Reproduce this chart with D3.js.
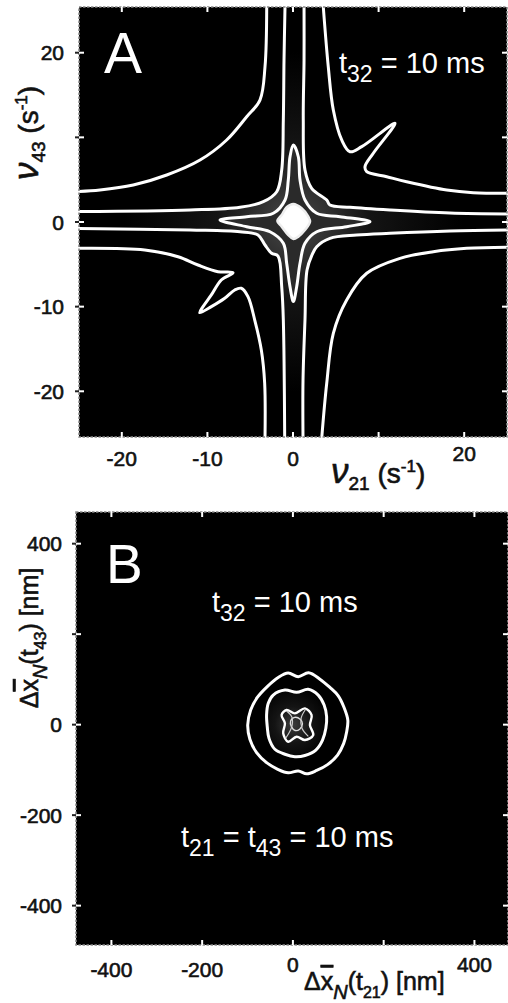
<!DOCTYPE html>
<html>
<head>
<meta charset="utf-8">
<script src="https://cdn.jsdelivr.net/npm/d3@7"></script>
<style>
  html, body { margin: 0; padding: 0; background: #fff; }
  svg { display: block; font-family: "Liberation Sans", Arial, sans-serif; }
  .ink { fill: #111; stroke: #111; stroke-width: 0.6; }
</style>
</head>
<body>
<svg id="chart" width="508" height="1003"></svg>
<script>
// ---- panel A : contour lines in the (nu21, nu43) plane, s^-1 ----
const aTicks = [-20, -10, 0, 10, 20];
const aXLabels = [-20, -10, 0, 20];
const aYLabels = [20, 0, -10, -20];

// outermost level, one branch per quadrant
const aOuterTL = [[-3.07,25.4],[-3.27,18.35],[-3.86,14.41],[-5.41,12.44],[-7.75,9.69],[-10.86,7.32],[-14.75,5.55],[-18.66,4.37],[-22.55,3.78],[-25.2,3.6]];
const aOuterTR = [[3.54,25.4],[4.12,18.35],[4.71,13.23],[5.69,9.69],[6.66,8.3],[8.03,8.9],[11.92,11.66],[9.38,8.12],[8.41,6.53],[8.61,5.94],[10.95,5.35],[13.28,4.76],[17.96,3.78],[21.06,3.46],[25.2,3.39]];
const aOuterBL = [[-25.2,-3.11],[-17.32,-3.31],[-13.43,-4.1],[-11.1,-5.08],[-8.76,-5.87],[-7.01,-5.99],[-8.38,-6.85],[-9.54,-8.62],[-10.51,-10.0],[-10.9,-10.71],[-9.54,-10.0],[-7.98,-9.01],[-6.81,-8.03],[-6.04,-7.83],[-5.26,-8.82],[-4.47,-11.58],[-3.7,-15.12],[-3.31,-19.05],[-3.27,-25.6]];
const aOuterBR = [[3.35,-25.6],[3.94,-19.05],[4.71,-13.15],[6.27,-9.21],[8.61,-6.06],[12.5,-4.29],[16.39,-3.51],[20.29,-3.11],[25.2,-2.99]];

// second level, hugging the axes
const aInnerTL = [[-0.93,25.6],[-1.05,19.1],[-1.13,12.05],[-1.32,6.14],[-1.9,3.58],[-3.47,2.4],[-6.19,1.74],[-12.03,1.42],[-25.2,1.24]];
const aInnerTR = [[1.29,25.6],[1.29,19.1],[1.2,12.05],[1.4,6.14],[2.18,3.98],[3.94,2.6],[4.32,2.0],[6.66,1.74],[11.33,1.42],[18.34,1.06],[25.2,0.95]];
const aInnerBL = [[-25.2,-0.77],[-12.03,-0.95],[-6.19,-1.15],[-4.09,-1.54],[-3.27,-2.72],[-2.49,-3.7],[-1.75,-4.02],[-1.32,-7.64],[-1.13,-11.58],[-0.97,-25.6]];
const aInnerBR = [[1.17,-25.6],[1.17,-18.7],[1.4,-11.58],[1.64,-5.67],[2.22,-3.9],[2.77,-2.92],[4.32,-1.93],[7.44,-1.54],[11.33,-1.33],[18.34,-1.06],[25.2,-0.95]];

// four pointed star and the central peak
const aStar = [[0.04,9.1],[0.62,7.71],[0.82,4.96],[1.4,2.6],[2.77,1.03],[5.49,0.63],[8.99,0.04],[6.27,-0.56],[2.77,-1.15],[1.4,-2.52],[0.82,-4.88],[0.43,-7.64],[0.04,-9.4],[-0.35,-7.64],[-0.74,-4.88],[-1.13,-2.52],[-2.69,-1.15],[-5.41,-0.56],[-8.53,0.24],[-5.41,0.63],[-2.3,1.03],[-0.93,2.6],[-0.55,4.96],[-0.35,7.71]];
const aCore = [[0.04,2.13],[1.01,1.62],[1.79,0.63],[1.99,0.04],[1.4,-0.95],[0.62,-1.73],[0.04,-2.0],[-0.55,-1.54],[-1.32,-0.55],[-1.83,0.12],[-1.32,0.83],[-0.74,1.74]];

// ---- panel B : contour lines of displacement, nm ----
const bTicks = [-400, -200, 0, 200, 400];
const bXLabels = [-400, -200, 0, 400];
const bYLabels = [400, 0, -200, -400];

const bOuterRing = [[-10.4,114.0],[11.7,106.0],[34.5,114.5],[59.5,100.6],[81.6,82.2],[99.9,63.7],[112.7,38.0],[121.0,10.2],[118.5,-15.7],[111.9,-41.3],[98.4,-67.2],[76.3,-88.3],[52.3,-101.3],[30.2,-108.6],[11.7,-102.3],[-10.4,-106.4],[-33.4,-98.6],[-58.0,-84.0],[-80.0,-61.9],[-94.8,-32.3],[-99.6,-0.9],[-93.1,32.3],[-78.5,60.1],[-56.5,84.2],[-32.4,104.3]];
const bMiddleRing = [[-43.4,65.4],[-17.6,76.5],[8.2,71.4],[33.7,78.2],[55.8,65.4],[68.8,43.3],[74.3,17.5],[72.6,-8.2],[65.3,-34.0],[50.5,-56.1],[26.5,-68.2],[4.4,-70.9],[-17.6,-65.4],[-39.7,-54.4],[-52.7,-30.3],[-56.5,-4.6],[-58.0,21.2],[-54.3,47.1]];
const bInnerRing = [[-13.9,32.3],[4.4,25.0],[26.5,36.0],[41.2,21.2],[37.5,-0.9],[44.8,-23.0],[26.5,-34.0],[8.2,-26.7],[-10.4,-37.8],[-21.4,-19.2],[-17.6,2.9],[-24.9,21.2]];
const bCoreLoop = [[4,16],[16,12],[21,2],[15,-10],[5,-13],[-3,-5],[-5,8]];
const bCoreStrokes = [[[-14,30],[-2,16],[-3,-6],[-16,-30]], [[28,34],[18,14],[20,-8],[34,-26]]];

const svg = d3.select("#chart");
svg.append("rect").attr("width", 508).attr("height", 1003).attr("fill", "#fff");
const defs = svg.append("defs");

function panel(cfg) {
  const { x, y, id } = cfg;
  const [x0, x1] = x.range(), [y0, y1] = [y.range()[1], y.range()[0]];
  const g = svg.append("g");

  defs.append("clipPath").attr("id", "clip" + id)
    .append("rect").attr("x", x0).attr("y", y0).attr("width", x1 - x0).attr("height", y1 - y0);

  const grad = defs.append("radialGradient").attr("id", "glow" + id)
    .attr("gradientUnits", "userSpaceOnUse")
    .attr("cx", x(0)).attr("cy", y(0)).attr("r", cfg.glowR);
  grad.append("stop").attr("offset", 0).attr("stop-color", cfg.glowColor);
  grad.append("stop").attr("offset", 0.45).attr("stop-color", "#141414");
  grad.append("stop").attr("offset", 1).attr("stop-color", "#000");

  g.append("rect").attr("x", x0).attr("y", y0).attr("width", x1 - x0).attr("height", y1 - y0)
    .attr("fill", "#000");

  const plot = g.append("g").attr("clip-path", `url(#clip${id})`);

  // frame, noisy like the scan
  g.append("rect").attr("x", x0).attr("y", y0).attr("width", x1 - x0).attr("height", y1 - y0)
    .attr("fill", "none").attr("stroke", "#8a8a8a").attr("stroke-width", 1.6)
    .attr("stroke-dasharray", "2.5 1.5");

  // ticks: white inside, short dark stub outside on the left
  const tk = g.append("g").attr("stroke-width", 2);
  cfg.ticks.forEach(v => {
    tk.append("line").attr("x1", x(v)).attr("x2", x(v)).attr("y1", y1).attr("y2", y1 - 5).attr("stroke", "#fff");
    tk.append("line").attr("x1", x(v)).attr("x2", x(v)).attr("y1", y0).attr("y2", y0 + 5).attr("stroke", "#fff");
    tk.append("line").attr("y1", y(v)).attr("y2", y(v)).attr("x1", x0).attr("x2", x0 + 5).attr("stroke", "#fff");
    tk.append("line").attr("y1", y(v)).attr("y2", y(v)).attr("x1", x1).attr("x2", x1 - 5).attr("stroke", "#fff");
    tk.append("line").attr("y1", y(v)).attr("y2", y(v)).attr("x1", x0 - 4).attr("x2", x0).attr("stroke", "#222");
  });

  g.append("g").selectAll("text").data(cfg.yLabels).join("text")
    .attr("class", "ink")
    .attr("x", cfg.yLabelX).attr("y", d => y(d) + 7.5)
    .attr("text-anchor", "end").attr("font-size", 21)
    .text(d => d);

  g.append("g").selectAll("text").data(cfg.xLabels).join("text")
    .attr("class", "ink")
    .attr("x", d => x(d)).attr("y", cfg.xLabelY)
    .attr("text-anchor", "middle").attr("font-size", 21)
    .text(d => d);

  return { g, plot };
}

// ---- panel A ----
const xA = d3.scaleLinear().domain([-25, 25]).range([79, 507]);
const yA = d3.scaleLinear().domain([-25.4, 25.4]).range([437, 7]);
const pA = panel({ id: "A", x: xA, y: yA, ticks: aTicks, xLabels: aXLabels, yLabels: aYLabels,
  yLabelX: 64, xLabelY: d => d === 20 ? 461 : 466, glowR: 170, glowColor: "#4a4a4a" });

const lineA = d3.line().x(d => xA(d[0])).y(d => yA(d[1])).curve(d3.curveCatmullRom.alpha(0.5));
const loopA = d3.line().x(d => xA(d[0])).y(d => yA(d[1])).curve(d3.curveCatmullRomClosed.alpha(0.5));
const fillA = d3.line().x(d => xA(d[0])).y(d => yA(d[1])).curve(d3.curveLinearClosed);

// speckled band between the inner branches
const crossRegion = [].concat(aInnerTL, aInnerBL, aInnerBR, aInnerTR.slice().reverse());
pA.plot.append("path").attr("d", fillA(crossRegion)).attr("fill", "url(#glowA)");

const branchesA = [aOuterTL, aOuterTR, aOuterBL, aOuterBR, aInnerTL, aInnerTR, aInnerBL, aInnerBR];
pA.plot.append("g").selectAll("path").data(branchesA).join("path")
  .attr("d", lineA).attr("fill", "none").attr("stroke", "#fff")
  .attr("stroke-width", 3).attr("stroke-linejoin", "round");

pA.plot.append("path").attr("d", loopA(aStar))
  .attr("fill", "#2a2a2a").attr("stroke", "#fff").attr("stroke-width", 3).attr("stroke-linejoin", "round");
pA.plot.append("path").attr("d", loopA(aCore))
  .attr("fill", "#fff").attr("stroke", "#eee").attr("stroke-width", 2.5);

svg.append("text").attr("x", 104).attr("y", 73).attr("font-size", 57).attr("fill", "#fff").text("A");

const tA = svg.append("text").attr("x", 339).attr("y", 73).attr("font-size", 29).attr("fill", "#fff");
tA.append("tspan").text("t");
tA.append("tspan").attr("font-size", 23).attr("dy", 9).text("32");
tA.append("tspan").attr("dy", -9).text(" = 10 ms");

const axA = svg.append("text").attr("class", "ink").attr("x", 331).attr("y", 483).attr("font-size", 28);
axA.append("tspan").attr("font-style", "italic").attr("font-size", 35).text("ν");
axA.append("tspan").attr("font-size", 19).attr("dy", 7).text("21");
axA.append("tspan").attr("dy", -7).text(" (s");
axA.append("tspan").attr("font-size", 17).attr("dy", -11).text("-1");
axA.append("tspan").attr("dy", 11).text(")");

const ayA = svg.append("text").attr("class", "ink").attr("transform", "translate(38,133) rotate(-90)")
  .attr("text-anchor", "middle").attr("font-size", 28);
ayA.append("tspan").attr("font-style", "italic").attr("font-size", 35).text("ν");
ayA.append("tspan").attr("font-size", 19).attr("dy", 7).text("43");
ayA.append("tspan").attr("dy", -7).text(" (s");
ayA.append("tspan").attr("font-size", 17).attr("dy", -11).text("-1");
ayA.append("tspan").attr("dy", 11).text(")");

// ---- panel B ----
const xB = d3.scaleLinear().domain([-478, 474]).range([76, 508]);
const yB = d3.scaleLinear().domain([-487, 470]).range([945, 512]);
const pB = panel({ id: "B", x: xB, y: yB, ticks: bTicks, xLabels: bXLabels, yLabels: bYLabels,
  yLabelX: 62, xLabelY: d => d >= 0 ? 972 : 977, glowR: 40, glowColor: "#3c3c3c" });

const loopB = d3.line().x(d => xB(d[0])).y(d => yB(d[1])).curve(d3.curveCatmullRomClosed.alpha(0.5));
const lineB = d3.line().x(d => xB(d[0])).y(d => yB(d[1])).curve(d3.curveCatmullRom.alpha(0.5));

pB.plot.append("path").attr("d", loopB(bMiddleRing)).attr("fill", "url(#glowB)");
pB.plot.append("g").selectAll("path").data([bOuterRing, bMiddleRing]).join("path")
  .attr("d", loopB).attr("fill", "none").attr("stroke", "#fff").attr("stroke-width", 3);
pB.plot.append("path").attr("d", loopB(bInnerRing))
  .attr("fill", "none").attr("stroke", "#fff").attr("stroke-width", 2.4);
pB.plot.append("path").attr("d", loopB(bCoreLoop))
  .attr("fill", "none").attr("stroke", "#ddd").attr("stroke-width", 1.4);
pB.plot.append("g").selectAll("path").data(bCoreStrokes).join("path")
  .attr("d", lineB).attr("fill", "none").attr("stroke", "#ccc").attr("stroke-width", 1.2);

svg.append("text").attr("x", 106).attr("y", 583).attr("font-size", 55).attr("fill", "#fff").text("B");

const tB1 = svg.append("text").attr("x", 212).attr("y", 612).attr("font-size", 29).attr("fill", "#fff");
tB1.append("tspan").text("t");
tB1.append("tspan").attr("font-size", 23).attr("dy", 9).text("32");
tB1.append("tspan").attr("dy", -9).text(" = 10 ms");

const tB2 = svg.append("text").attr("x", 181).attr("y", 847).attr("font-size", 29).attr("fill", "#fff");
tB2.append("tspan").text("t");
tB2.append("tspan").attr("font-size", 23).attr("dy", 9).text("21");
tB2.append("tspan").attr("dy", -9).text(" = t");
tB2.append("tspan").attr("font-size", 23).attr("dy", 9).text("43");
tB2.append("tspan").attr("dy", -9).text(" = 10 ms");

function dispTitle(sel, sub) {
  sel.append("tspan").text("Δ");
  sel.append("tspan").style("text-decoration", "overline").text("x");
  sel.append("tspan").attr("font-style", "italic").attr("font-size", 20).attr("dy", 9).text("N");
  sel.append("tspan").attr("dy", -9).text("(t");
  sel.append("tspan").attr("font-size", 16).attr("dy", 8).text(sub);
  sel.append("tspan").attr("dy", -8).text(") [nm]");
}
dispTitle(svg.append("text").attr("class", "ink").attr("x", 304).attr("y", 990).attr("font-size", 25), "21");
dispTitle(svg.append("text").attr("class", "ink").attr("transform", "translate(38,638) rotate(-90)")
  .attr("text-anchor", "middle").attr("font-size", 25), "43");
</script>
</body>
</html>
